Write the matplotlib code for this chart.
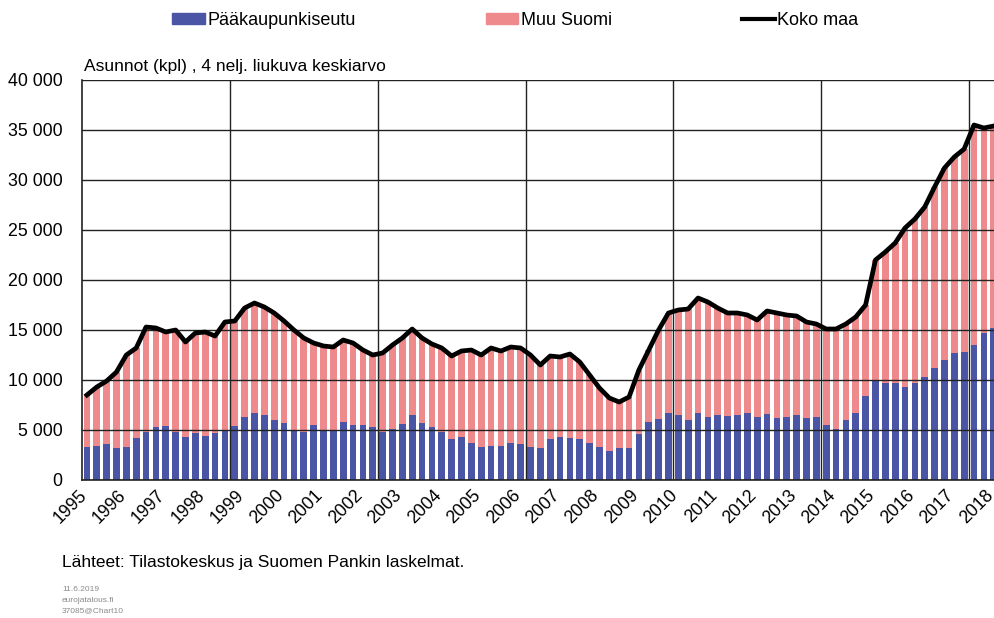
import numpy as np
import matplotlib
matplotlib.use('Agg')
import matplotlib.pyplot as plt
from matplotlib.ticker import MultipleLocator, FuncFormatter
from matplotlib.patches import Patch
from matplotlib.lines import Line2D
from matplotlib.transforms import ScaledTranslation

plt.rcParams['font.family'] = ['Liberation Sans', 'DejaVu Sans']

# Quarterly values 1995Q1 - 2018Q1, dwellings (4 quarter moving average)
pks = [3300, 3400, 3600, 3200, 3300, 4200, 4800, 5300, 5400, 4800,
       4300, 4700, 4400, 4700, 5000, 5400, 6300, 6700, 6500, 6000,
       5700, 4900, 4800, 5500, 4900, 5000, 5800, 5500, 5500, 5300,
       4800, 5100, 5600, 6500, 5700, 5300, 4800, 4100, 4300, 3700,
       3300, 3400, 3400, 3700, 3600, 3300, 3200, 4100, 4300, 4200,
       4100, 3700, 3300, 2900, 3200, 3200, 4600, 5800, 6100, 6700,
       6500, 6000, 6700, 6300, 6500, 6400, 6500, 6700, 6300, 6600,
       6200, 6300, 6500, 6200, 6300, 5500, 5100, 6000, 6700, 8400,
       9900, 9700, 9700, 9300, 9700, 10300, 11200, 12000, 12700, 12800,
       13500, 14700, 15200]
muu = [5200, 5900, 6300, 7600, 9200, 9000, 10500, 9900, 9400, 10200,
       9500, 10000, 10400, 9700, 10800, 10500, 10900, 11000, 10800, 10700,
       10200, 10100, 9400, 8200, 8500, 8300, 8200, 8200, 7500, 7200,
       7900, 8400, 8600, 8600, 8500, 8300, 8400, 8300, 8600, 9300,
       9200, 9800, 9500, 9600, 9600, 9200, 8300, 8300, 8000, 8400,
       7700, 6800, 5900, 5300, 4600, 5100, 6400, 7200, 8900, 10000,
       10500, 11100, 11500, 11500, 10700, 10300, 10200, 9800, 9700, 10300,
       10500, 10200, 9900, 9600, 9300, 9600, 10000, 9600, 9600, 9100,
       12100, 13100, 14000, 15900, 16400, 17000, 18100, 19200, 19600, 20300,
       22000, 20500, 20200]
years = list(range(1995, 2019))

koko_maa = np.array(pks) + np.array(muu)
x = np.arange(len(pks))

blue = '#4B55A6'
pink = '#EF8A8C'

fig = plt.figure(figsize=(9.95, 6.18), dpi=100)
ax = fig.add_axes([82 / 995, 138 / 618, 1 - 82 / 995, 400 / 618])

ax.bar(x, pks, width=0.68, color=blue, zorder=1)
ax.bar(x, muu, bottom=pks, width=0.68, color=pink, zorder=1)
ax.plot(x, koko_maa, color='black', lw=3.4, zorder=3, solid_joinstyle='round')

ax.yaxis.set_major_locator(MultipleLocator(5000))
ax.yaxis.set_major_formatter(FuncFormatter(lambda v, p: f'{int(v):,}'.replace(',', ' ')))
ax.set_xticks(x[::4])
ax.set_xticklabels([])
ax.set_xticks(np.arange(14.5, 92, 15), minor=True)
ax.set_xlim(-0.5, 92.13)
ax.set_ylim(0, 40000)

# year labels, rotated, ending a bit left of the first quarter of each year
lab_tr = ax.get_xaxis_transform() + ScaledTranslation(-0.09, -0.07, fig.dpi_scale_trans)
for xi, yr in zip(x[::4], years):
    ax.text(xi, 0, str(yr), transform=lab_tr, rotation=45, ha='right', va='top',
            rotation_mode='anchor', fontsize=12.8, clip_on=False)

ax.set_axisbelow(False)
ax.grid(axis='y', which='major', color='#222222', lw=1)
ax.grid(axis='x', which='minor', color='#222222', lw=1)
ax.tick_params(axis='x', which='both', length=0)
ax.tick_params(axis='y', length=0, labelsize=12.8, pad=14)
for s in ['top', 'right']:
    ax.spines[s].set_visible(False)
for s in ['left', 'bottom']:
    ax.spines[s].set_color('#222222')
    ax.spines[s].set_linewidth(1.2)

handles = [Patch(color=blue), Patch(color=pink), Line2D([], [], color='black', lw=3)]
fig.legend(handles, ['Pääkaupunkiseutu', 'Muu Suomi', 'Koko maa'],
           loc='center', bbox_to_anchor=(0.518, 0.967), ncol=3, frameon=False,
           fontsize=13, handlelength=1.8, handleheight=0.6, handletextpad=0.15,
           columnspacing=7.2)

fig.text(84 / 995, 1 - 67 / 618, 'Asunnot (kpl) , 4 nelj. liukuva keskiarvo',
         fontsize=12.5, va='center')
fig.text(62 / 995, 1 - 563 / 618, 'Lähteet: Tilastokeskus ja Suomen Pankin laskelmat.',
         fontsize=12.5, va='center')
fig.text(62 / 995, 1 - 600 / 618, '11.6.2019\neurojatalous.fi\n37085@Chart10',
         fontsize=6, color='#8a8a8a', va='center', linespacing=1.7)

fig.savefig('out.png', dpi=100)
